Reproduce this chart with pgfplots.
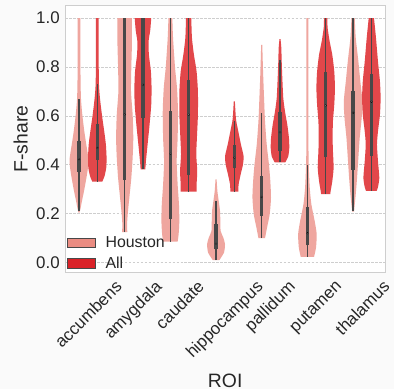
\documentclass[border=0pt]{standalone}
\usepackage{graphicx}
\usepackage{pgfplots}
\pgfplotsset{compat=1.18}
\usepackage{pgfplotstable}
\usepgfplotslibrary{fillbetween}
\usepackage{fontspec}
\setmainfont{Liberation Sans}
\definecolor{vH}{RGB}{239,166,159}
\definecolor{vA}{RGB}{226,71,74}
\definecolor{lH}{RGB}{234,140,130}
\definecolor{lA}{RGB}{218,34,40}
\definecolor{boxc}{RGB}{72,72,72}
\definecolor{figbg}{RGB}{250,250,250}
\definecolor{framec}{RGB}{206,206,206}
\definecolor{txt}{RGB}{38,38,38}

% violin outlines: v = value, w = half width (category units)
\pgfplotstableread{
v w
0.204 0.010
0.218 0.029
0.252 0.065
0.306 0.123
0.360 0.174
0.400 0.203
0.429 0.203
0.483 0.159
0.537 0.116
0.605 0.072
0.670 0.043
0.750 0.033
0.850 0.032
1.000 0.032
}\tHa
\pgfplotstableread{
v w
0.331 0.109
0.354 0.159
0.388 0.196
0.429 0.203
0.483 0.188
0.537 0.152
0.605 0.101
0.673 0.058
0.732 0.036
0.850 0.030
1.000 0.030
}\tAa
\pgfplotstableread{
v w
0.125 0.058
0.156 0.051
0.211 0.072
0.279 0.109
0.347 0.145
0.430 0.174
0.510 0.188
0.605 0.174
0.700 0.138
0.800 0.145
0.900 0.159
1.000 0.159
}\tHm
\pgfplotstableread{
v w
0.381 0.051
0.415 0.065
0.483 0.101
0.565 0.145
0.646 0.181
0.714 0.188
0.782 0.174
0.850 0.130
0.905 0.123
0.950 0.159
1.000 0.181
}\tAm
\pgfplotstableread{
v w
0.086 0.159
0.116 0.181
0.170 0.196
0.238 0.188
0.320 0.159
0.415 0.138
0.510 0.159
0.619 0.167
0.714 0.145
0.800 0.101
0.920 0.058
1.000 0.043
}\tHc
\pgfplotstableread{
v w
0.290 0.174
0.320 0.174
0.374 0.188
0.442 0.167
0.510 0.181
0.605 0.203
0.700 0.203
0.782 0.174
0.850 0.116
0.920 0.072
1.000 0.058
}\tAc
\pgfplotstableread{
v w
0.010 0.072
0.041 0.174
0.075 0.196
0.102 0.159
0.129 0.101
0.170 0.094
0.211 0.087
0.252 0.058
0.293 0.029
0.340 0.012
}\tHh
\pgfplotstableread{
v w
0.290 0.087
0.320 0.094
0.360 0.138
0.400 0.188
0.435 0.203
0.483 0.145
0.537 0.087
0.578 0.043
0.605 0.029
0.660 0.012
}\tAh
\pgfplotstableread{
v w
0.100 0.072
0.143 0.116
0.197 0.174
0.265 0.203
0.333 0.188
0.400 0.159
0.483 0.109
0.578 0.072
0.673 0.051
0.782 0.029
0.891 0.012
}\tHp
\pgfplotstableread{
v w
0.410 0.116
0.435 0.181
0.469 0.203
0.510 0.196
0.565 0.159
0.619 0.109
0.673 0.072
0.755 0.051
0.830 0.036
0.878 0.029
0.914 0.012
}\tAp
\pgfplotstableread{
v w
0.023 0.145
0.061 0.188
0.116 0.203
0.170 0.159
0.238 0.087
0.306 0.051
0.400 0.029
0.500 0.022
0.700 0.022
1.000 0.022
}\tHu
\pgfplotstableread{
v w
0.280 0.101
0.293 0.109
0.333 0.145
0.388 0.174
0.456 0.159
0.510 0.152
0.578 0.159
0.646 0.188
0.714 0.203
0.782 0.188
0.850 0.145
0.905 0.087
0.960 0.043
1.000 0.036
}\tAu
\pgfplotstableread{
v w
0.208 0.022
0.224 0.029
0.279 0.058
0.347 0.087
0.429 0.116
0.510 0.145
0.592 0.188
0.660 0.203
0.741 0.159
0.823 0.116
0.920 0.058
1.000 0.036
}\tHt
\pgfplotstableread{
v w
0.293 0.116
0.309 0.145
0.347 0.174
0.415 0.145
0.483 0.123
0.537 0.145
0.605 0.188
0.673 0.203
0.741 0.188
0.823 0.145
0.920 0.101
1.000 0.058
}\tAt

\newcommand{\violin}[4]{%
  \addplot[draw=none, smooth, tension=0.4, name path=#4R] table[x expr=#1+\thisrow{w}, y=v] {#2};
  \addplot[draw=none, smooth, tension=0.4, name path=#4L] table[x expr=#1-\thisrow{w}, y=v] {#2};
  \addplot[fill=#3, draw=none] fill between[of=#4R and #4L, reverse=true];
}
% x, whisker low, whisker high, q1, q3, median
\newcommand{\vinner}[6]{%
  \addplot[draw=boxc, line width=1.2pt] coordinates {(#1,#2) (#1,#3)};
  \addplot[draw=boxc, line width=3.2pt] coordinates {(#1,#4) (#1,#5)};
  \addplot[only marks, mark=*, mark size=0.9pt, mark options={fill=white, draw=none}] coordinates {(#1,#6)};
}

\begin{document}
\pagecolor{figbg}
\begin{tikzpicture}
\begin{axis}[
  scale only axis, width=322pt, height=268pt,
  at={(0pt,0pt)}, anchor=south west,
  xmin=-0.5, xmax=6.5, ymin=-0.039, ymax=1.05,
  axis background/.style={fill=white},
  axis line style={draw=framec, line width=1pt},
  major tick length=0pt,
  ymajorgrids, grid style={draw=framec, line width=0.8pt, dash pattern=on 2.5pt off 1.5pt},
  ytick={0,0.2,0.4,0.6,0.8,1.0},
  yticklabel style={anchor=east, inner sep=0pt, xshift=-5.5pt, font=\fontsize{17}{20}\selectfont, text=txt,
    /pgf/number format/fixed, /pgf/number format/fixed zerofill, /pgf/number format/precision=1, /pgf/number format/assume math mode=true},
  xtick={0,1,2,3,4,5,6},
  xticklabels={\rotatebox{45}{accumbens},\rotatebox{45}{amygdala},\rotatebox{45}{caudate},\rotatebox{45}{hippocampus},\rotatebox{45}{pallidum},\rotatebox{45}{putamen},\rotatebox{45}{thalamus}},
  xticklabel style={anchor=north, inner sep=0pt, yshift=-7pt, font=\fontsize{17}{20}\selectfont, text=txt},
  xlabel={ROI}, ylabel={F-share},
  every axis x label/.style={at={(axis description cs:0.5,-0.432)}, anchor=base, font=\fontsize{19.5}{23}\selectfont, text=txt},
  every axis y label/.style={at={(axis description cs:-0.118,0.5)}, rotate=90, anchor=base, font=\fontsize{19.5}{23}\selectfont, text=txt},
  legend style={at={(rel axis cs:0,0)}, anchor=south west, xshift=2pt, yshift=2.2pt, draw=none, fill=none, inner sep=0pt, outer sep=0pt,
    row sep=7.7pt, column sep=10pt, font=\fontsize{16}{19}\selectfont, text=txt, nodes={inner sep=0pt}},
  legend cell align=left,
]
\addlegendimage{legend image code/.code={\draw[fill=lH, draw=boxc, line width=0.8pt] (0pt,-4.7pt) rectangle (27.7pt,4.7pt);}}
\addlegendentry{Houston}
\addlegendimage{legend image code/.code={\draw[fill=lA, draw=boxc, line width=0.8pt] (0pt,-4.7pt) rectangle (27.7pt,4.7pt);}}
\addlegendentry{All}

\violin{-0.2}{\tHa}{vH}{ha}
\violin{0.2}{\tAa}{vA}{aa}
\violin{0.8}{\tHm}{vH}{hm}
\violin{1.2}{\tAm}{vA}{am}
\violin{1.8}{\tHc}{vH}{hc}
\violin{2.2}{\tAc}{vA}{ac}
\violin{2.8}{\tHh}{vH}{hh}
\violin{3.2}{\tAh}{vA}{ah}
\violin{3.8}{\tHp}{vH}{hp}
\violin{4.2}{\tAp}{vA}{ap}
\violin{4.8}{\tHu}{vH}{hu}
\violin{5.2}{\tAu}{vA}{au}
\violin{5.8}{\tHt}{vH}{ht}
\violin{6.2}{\tAt}{vA}{at}

\vinner{-0.2}{0.21}{0.67}{0.37}{0.497}{0.422}
\vinner{0.2}{0.331}{0.732}{0.42}{0.565}{0.469}
\vinner{0.8}{0.125}{1.0}{0.337}{1.0}{0.606}
\vinner{1.2}{0.381}{1.0}{0.592}{1.0}{0.727}
\vinner{1.8}{0.086}{1.0}{0.177}{0.622}{0.445}
\vinner{2.2}{0.29}{1.0}{0.358}{0.748}{0.605}
\vinner{2.8}{0.01}{0.252}{0.054}{0.159}{0.077}
\vinner{3.2}{0.29}{0.578}{0.385}{0.483}{0.429}
\vinner{3.8}{0.10}{0.61}{0.19}{0.355}{0.268}
\vinner{4.2}{0.41}{0.83}{0.457}{0.615}{0.533}
\vinner{4.8}{0.023}{0.40}{0.07}{0.226}{0.12}
\vinner{5.2}{0.28}{1.0}{0.43}{0.78}{0.643}
\vinner{5.8}{0.21}{1.0}{0.38}{0.703}{0.613}
\vinner{6.2}{0.293}{1.0}{0.437}{0.772}{0.658}
\end{axis}
\pgfresetboundingbox
\path[use as bounding box] (-63pt,-118pt) rectangle (331pt,274pt);
\end{tikzpicture}
\end{document}
